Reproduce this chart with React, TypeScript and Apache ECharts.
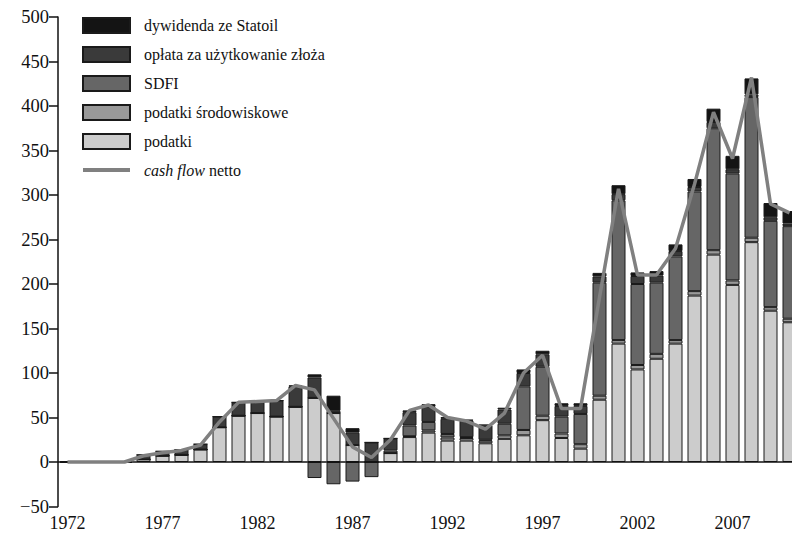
import React, { useEffect, useRef } from "react";
import * as echarts from "echarts";

const years: string[] = [];
for (let y = 1972; y <= 2010; y++) years.push(String(y));

const podatki = [0, 0, 0, 0, 3, 7, 8, 14, 39, 52, 55, 51, 62, 72, 55, 19, 0, 10, 28, 33, 24, 24, 21, 26, 30, 47, 27, 15, 70, 133, 104, 116, 133, 187, 233, 199, 247, 170, 157];
const podatkiSrodowiskowe = [0, 0, 0, 0, 0, 0, 0, 0, 0, 0, 0, 0, 0, 0, 0, 0, 0, 0, 1, 2.5, 3.5, 3, 3, 4, 6, 5, 5, 5, 4.5, 4, 5, 5.5, 4, 5, 5, 5, 5, 4, 4];
const sdfi = [0, 0, 0, 0, 0, 0, 0, 0, 0, 0, 0, 0, 0, -18, -25, -22, -17, 3, 12, 9.5, 4, 1, 1, 13, 49, 55, 19, 34, 127, 157, 91, 80, 94, 112, 137, 120, 158, 97, 104];
const oplata = [0, 0, 0, 0, 5, 5, 6, 6, 12, 15, 13, 18, 23, 23, 2.5, 14, 22, 13.5, 15, 17, 17, 18.5, 16, 16, 15, 14, 12, 9, 7, 7, 9, 8, 6, 5, 7, 5, 3, 4, 3];
const dywidenda = [0, 0, 0, 0, 0, 0, 0, 0, 0, 0, 0, 0, 1, 3.5, 17, 5, 0, 0, 2, 3, 2, 1, 1, 2, 4, 4, 3, 3, 4, 10, 4, 5, 7.5, 9, 15, 15, 18, 16, 14];
const cashFlow = [0, 0, 0, 0, 7, 10.5, 13, 19, 45, 67, 68, 69, 86, 81, 49, 17, 5, 25, 58, 64, 50, 46, 37, 55, 100, 120, 60, 60, 185, 307, 210, 210, 240, 312, 393, 341, 432, 290, 280];

const FONT = "Liberation Serif";

export default function App() {
  const ref = useRef<HTMLDivElement>(null);
  useEffect(() => {
    if (!ref.current) return;
    const chart = echarts.init(ref.current, undefined, { renderer: "svg" });
    const barBase = (name: string, data: number[], color: string, extra: any = {}) => ({
      name,
      type: "bar",
      stack: "total",
      data,
      barWidth: 14,
      itemStyle: { color, borderColor: "#1a1a1a", borderWidth: 1 },
      ...extra,
    });
    chart.setOption({
      animation: false,
      backgroundColor: "#ffffff",
      textStyle: { fontFamily: FONT },
      grid: { left: 58, right: 1, top: 17, bottom: 26.5 },
      legend: {
        orient: "vertical",
        left: 82,
        top: 17,
        padding: 0,
        itemWidth: 47,
        itemHeight: 15,
        itemGap: 12,
        data: [
          { name: "dywidenda ze Statoil", icon: "rect" },
          { name: "opłata za użytkowanie złoża", icon: "rect" },
          { name: "SDFI", icon: "rect" },
          { name: "podatki środowiskowe", icon: "rect" },
          { name: "podatki", icon: "rect" },
          {
            name: "cash flow netto",
            icon: "path://M0,0 L47,0 L47,4 L0,4 Z",
            itemStyle: { color: "#808080", borderWidth: 0 },
          },
        ],
        formatter: (name: string) => (name === "cash flow netto" ? "{i|cash flow} netto" : name),
        textStyle: {
          fontFamily: FONT,
          fontSize: 16,
          color: "#111",
          padding: [0, 0, 0, 9],
          rich: { i: { fontStyle: "italic", fontFamily: FONT, fontSize: 16, color: "#111" } },
        },
      },
      xAxis: {
        type: "category",
        data: years,
        boundaryGap: true,
        axisLine: { show: false, onZero: false },
        axisTick: { show: false },
        axisLabel: { interval: 4, fontSize: 18, color: "#111", fontFamily: FONT, margin: 7 },
        splitLine: { show: false },
      },
      yAxis: {
        type: "value",
        min: -50,
        max: 500,
        interval: 50,
        axisLine: { show: true, lineStyle: { color: "#111", width: 1.5 } },
        axisTick: { show: true, length: 9, lineStyle: { color: "#111", width: 1.5 } },
        axisLabel: {
          fontSize: 18.5,
          color: "#111",
          fontFamily: FONT,
          margin: 9,
          formatter: (v: number) => (v < 0 ? "\u2212" + Math.abs(v) : String(v)),
        },
        splitLine: { show: false },
      },
      series: [
        barBase("podatki", podatki, "#cccccc", {
          markLine: {
            silent: true,
            symbol: "none",
            label: { show: false },
            lineStyle: { color: "#111", width: 1.5, type: "solid" },
            data: [{ yAxis: 0 }],
          },
        }),
        barBase("podatki środowiskowe", podatkiSrodowiskowe, "#999999"),
        barBase("SDFI", sdfi, "#666666"),
        barBase("opłata za użytkowanie złoża", oplata, "#3a3a3a"),
        barBase("dywidenda ze Statoil", dywidenda, "#141414"),
        {
          name: "cash flow netto",
          type: "line",
          data: cashFlow,
          symbol: "none",
          z: 5,
          lineStyle: { color: "#808080", width: 3.5 },
          itemStyle: { color: "#808080" },
        },
      ],
    });
    return () => chart.dispose();
  }, []);
  return <div ref={ref} style={{ position: "fixed", left: 0, top: 0, width: 800, height: 533 }} />;
}
